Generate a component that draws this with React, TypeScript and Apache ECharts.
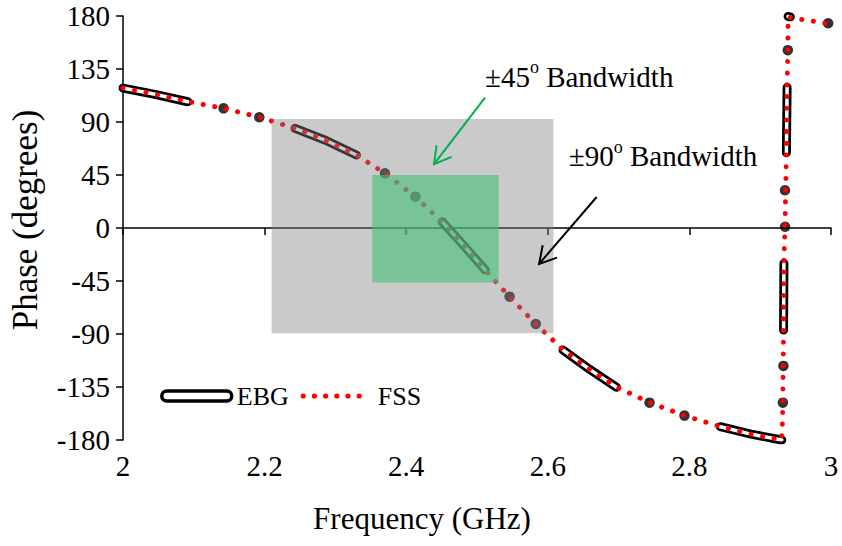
import React, { useEffect, useRef } from "react";
import * as echarts from "echarts";

// ---- data ----
const fssFreq = [
  2.0, 2.045, 2.091, 2.142, 2.193, 2.243, 2.286, 2.33, 2.37, 2.413, 2.451, 2.48, 2.512,
  2.546, 2.583, 2.622, 2.659, 2.697, 2.744, 2.793, 2.844, 2.887, 2.93, 2.9315, 2.932,
  2.9325, 2.933, 2.9335, 2.935, 2.936, 2.937, 2.938, 2.939, 2.9394, 2.948, 2.966, 2.982, 3.0,
];
const fssPhase = [
  119, 113.5, 107.5, 101.6, 94, 84.6, 74.5, 62, 46.4, 26.6, 5, -14, -36,
  -58.3, -81.5, -103.6, -120, -135, -148.3, -159.3, -168.7, -175, -180, -165, -148,
  -117, -86, -30, 1, 32, 64, 119, 151, 179.2, 178, 176.4, 175, 173,
];

// EBG drawn segments (null = gap between segments)
const ebgFreq = [
  2.0, 2.045, 2.0915, null,
  2.243, 2.286, 2.3296, null,
  2.4507, 2.48, 2.5117, null,
  2.6216, 2.659, 2.697, null,
  2.8437, 2.887, 2.9305, null,
  2.9335, 2.933, null,
  2.938, 2.937, null,
  2.9394, 2.9425,
];
const ebgPhase = [
  118.8, 113.5, 107.2, null,
  84.6, 74.5, 62, null,
  5.4, -14, -35.7, null,
  -103.6, -120, -135.2, null,
  -168.7, -175, -180, null,
  -30, -86.6, null,
  119.4, 64, null,
  179.6, 179.3,
];

// EBG single measured points (shown as dots)
const ebgDotFreq = [2.142, 2.1925, 2.37, 2.413, 2.546, 2.583, 2.7437, 2.793, 2.932, 2.9328, 2.9352, 2.935, 2.939, 2.996];
const ebgDotPhase = [101.6, 94, 46.4, 26.6, -58.3, -81.5, -148.3, -159.3, -148.3, -117.1, 1, 32, 151, 173.8];

// bandwidth regions
const bandFreqLow = [2.2099, 2.352];
const bandFreqHigh = [2.608, 2.5306];
const bandPhaseLow = [-89.3, -46.3];
const bandPhaseHigh = [92.5, 45.1];
const bandColors = ["rgba(128,128,128,0.42)", "rgba(70,190,120,0.62)"];

// annotations
const annotationValues = ["±45", "±90"];
const arrowFromFreq = [2.5113, 2.669];
const arrowFromPhase = [110.7, 26.3];
const arrowToFreq = [2.4393, 2.5877];
const arrowToPhase = [54.2, -30.5];
const labelFreq = [2.5113, 2.6296];
const labelPhase = [130.0, 62.7];
const arrowColors = ["#00b050", "#000000"];

const FONT = "Liberation Serif, Times New Roman, serif";

const zip = (xs: (number | null)[], ys: (number | null)[]) => xs.map((x, i) => [x, ys[i]]);

// six round dots for the FSS legend icon (box 0..70 x 0..10)
const dotsIcon =
  "path://M0,0 L0,0 M70,10 L70,10 " +
  [0, 1, 2, 3, 4, 5]
    .map((k) => {
      const cx = 7.5 + k * 11.2;
      const r = 2.6;
      return `M${cx - r},5 A${r},${r} 0 1 0 ${cx + r},5 A${r},${r} 0 1 0 ${cx - r},5 Z`;
    })
    .join(" ");

export default function App() {
  const ref = useRef<HTMLDivElement>(null);

  useEffect(() => {
    if (!ref.current) return;
    const chart = echarts.init(ref.current, undefined, { renderer: "svg" });

    const annotationData = annotationValues.map((_, i) => [
      arrowFromFreq[i], arrowFromPhase[i], arrowToFreq[i], arrowToPhase[i], labelFreq[i], labelPhase[i],
    ]);
    const bandData = bandFreqLow.map((lo, i) => [lo, bandFreqHigh[i], bandPhaseLow[i], bandPhaseHigh[i]]);

    const option: any = {
      animation: false,
      grid: { left: 121, right: 11, top: 16, bottom: 106 },
      legend: {
        left: 155,
        top: 378,
        itemWidth: 70,
        itemHeight: 10,
        itemGap: 7,
        textStyle: { fontFamily: FONT, fontSize: 26, color: "#000" },
        data: [
          {
            name: "EBG",
            icon: "path://M5,0 H65 A5,5 0 0 1 65,10 H5 A5,5 0 0 1 5,0 Z",
            itemStyle: { color: "#fff", borderColor: "#000", borderWidth: 3.5 },
          },
          {
            name: "FSS",
            icon: dotsIcon,
            itemStyle: { color: "#ff0000", borderWidth: 0 },
            textStyle: { padding: [0, 0, 0, 7] },
          },
        ],
      },
      xAxis: [
        {
          type: "value",
          position: "top",
          min: 2,
          max: 3,
          interval: 0.2,
          axisLine: { show: true, onZero: true, lineStyle: { color: "#000", width: 1.5 } },
          axisTick: { show: true, inside: true, length: 7, lineStyle: { color: "#000", width: 1.5 } },
          axisLabel: { show: false },
          splitLine: { show: false },
        },
        {
          type: "value",
          position: "bottom",
          min: 2,
          max: 3,
          interval: 0.2,
          axisLine: { show: false, onZero: false },
          axisTick: { show: false },
          axisLabel: { show: true, margin: 11, fontSize: 29, fontFamily: FONT, color: "#000" },
          splitLine: { show: false },
          name: "Frequency (GHz)",
          nameLocation: "middle",
          nameGap: 63,
          nameTextStyle: { fontSize: 31, fontFamily: FONT, color: "#000", padding: [0, 110, 0, 0] },
        },
      ],
      yAxis: {
        type: "value",
        min: -180,
        max: 180,
        interval: 45,
        axisLine: { show: true, onZero: false, lineStyle: { color: "#000", width: 1.5 } },
        axisTick: { show: true, length: 7, lineStyle: { color: "#000", width: 1.5 } },
        axisLabel: { margin: 13, fontSize: 29, fontFamily: FONT, color: "#000" },
        splitLine: { show: false },
        name: "Phase (degrees)",
        nameLocation: "middle",
        nameGap: 80,
        nameTextStyle: { fontSize: 35, fontFamily: FONT, color: "#000", padding: [0, 0, 0, 16] },
      },
      series: [
        {
          name: "EBG",
          type: "line",
          xAxisIndex: 1,
          data: zip(ebgFreq, ebgPhase),
          symbol: "none",
          connectNulls: false,
          lineStyle: { color: "#000", width: 9, cap: "round", join: "round" },
          itemStyle: { color: "#000" },
          z: 2,
        },
        {
          name: "EBG inner",
          type: "line",
          xAxisIndex: 1,
          data: zip(ebgFreq, ebgPhase),
          symbol: "none",
          connectNulls: false,
          lineStyle: { color: "#fff", width: 3.5, cap: "round", join: "round" },
          silent: true,
          z: 2,
        },
        {
          name: "EBG points",
          type: "scatter",
          xAxisIndex: 1,
          data: zip(ebgDotFreq, ebgDotPhase),
          symbolSize: 10.5,
          itemStyle: { color: "#000" },
          z: 2,
        },
        {
          name: "FSS",
          type: "line",
          xAxisIndex: 1,
          data: zip(fssFreq, fssPhase),
          symbol: "none",
          lineStyle: { color: "#ff0000", width: 5, type: [0.1, 11.6], cap: "round", join: "round" },
          itemStyle: { color: "#ff0000" },
          z: 3,
        },
        {
          name: "bands",
          type: "custom",
          xAxisIndex: 1,
          z: 5,
          silent: true,
          data: bandData,
          renderItem: (params: any, api: any) => {
            const i = params.dataIndex;
            const a = api.coord([api.value(0), api.value(3)]);
            const b = api.coord([api.value(1), api.value(2)]);
            return {
              type: "rect",
              shape: { x: a[0], y: a[1], width: b[0] - a[0], height: b[1] - a[1] },
              style: { fill: bandColors[i], stroke: null },
            };
          },
        },
        {
          name: "annotations",
          type: "custom",
          xAxisIndex: 1,
          z: 6,
          silent: true,
          data: annotationData,
          renderItem: (params: any, api: any) => {
            const i = params.dataIndex;
            const p1 = api.coord([api.value(0), api.value(1)]);
            const p2 = api.coord([api.value(2), api.value(3)]);
            const t = api.coord([api.value(4), api.value(5)]);
            const color = arrowColors[i];
            const ang = Math.atan2(p2[1] - p1[1], p2[0] - p1[0]);
            const L = 19;
            const sp = 0.52;
            const h1 = [p2[0] - L * Math.cos(ang - sp), p2[1] - L * Math.sin(ang - sp)];
            const h2 = [p2[0] - L * Math.cos(ang + sp), p2[1] - L * Math.sin(ang + sp)];
            return {
              type: "group",
              children: [
                {
                  type: "line",
                  shape: { x1: p1[0], y1: p1[1], x2: p2[0], y2: p2[1] },
                  style: { stroke: color, lineWidth: 2 },
                },
                {
                  type: "polyline",
                  shape: { points: [h1, p2, h2] },
                  style: { stroke: color, lineWidth: 2, fill: null },
                },
                {
                  type: "text",
                  x: t[0],
                  y: t[1],
                  style: {
                    text: "{a|" + annotationValues[i] + "}{b|o}{a| Bandwidth}",
                    align: "left",
                    verticalAlign: "middle",
                    rich: {
                      a: { fontSize: 29, fontFamily: FONT, fill: "#000", lineHeight: 33, verticalAlign: "bottom" },
                      b: { fontSize: 18, fontFamily: FONT, fill: "#000", lineHeight: 26, verticalAlign: "top" },
                    },
                  },
                },
              ],
            };
          },
        },
      ],
    };

    chart.setOption(option);
    return () => chart.dispose();
  }, []);

  return (
    <div
      ref={ref}
      style={{ position: "fixed", left: 0, top: 0, width: 842, height: 546, background: "#fff" }}
    />
  );
}
